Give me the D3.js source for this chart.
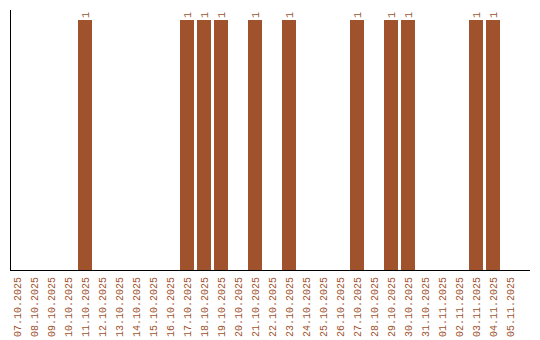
<!DOCTYPE html>
<html>
<head>
<meta charset="utf-8">
<script src="https://cdn.jsdelivr.net/npm/d3@7"></script>
<style>
  html, body { margin: 0; padding: 0; background: #ffffff; }
  svg { display: block; }
  text { font-family: "Liberation Mono", monospace; font-size: 10px; fill: #a0522d; }
</style>
</head>
<body>
<svg id="chart" width="540" height="340"></svg>
<script>
const dates = [
  "07.10.2025","08.10.2025","09.10.2025","10.10.2025","11.10.2025","12.10.2025",
  "13.10.2025","14.10.2025","15.10.2025","16.10.2025","17.10.2025","18.10.2025",
  "19.10.2025","20.10.2025","21.10.2025","22.10.2025","23.10.2025","24.10.2025",
  "25.10.2025","26.10.2025","27.10.2025","28.10.2025","29.10.2025","30.10.2025",
  "31.10.2025","01.11.2025","02.11.2025","03.11.2025","04.11.2025","05.11.2025"
];
const values = [
  0,0,0,0,1,0,
  0,0,0,0,1,1,
  1,0,1,0,1,0,
  0,0,1,0,1,1,
  0,0,0,1,1,0
];

const svg = d3.select("#chart");
const mLeft = 10, mRight = 530, mTop = 10, mBottom = 270;
const barColor = "#a0522d";

const x = d3.scaleBand()
  .domain(dates)
  .range([mLeft, 517])
  .paddingInner(3 / 17)
  .paddingOuter(0);

const y = d3.scaleLinear()
  .domain([0, d3.max(values)])
  .range([mBottom, 20]);

const data = dates.map((d, i) => ({ date: d, value: values[i] }));

// bars
svg.append("g").selectAll("rect")
  .data(data.filter(d => d.value > 0))
  .join("rect")
  .attr("x", d => x(d.date))
  .attr("y", d => y(d.value))
  .attr("width", x.bandwidth())
  .attr("height", d => y(0) - y(d.value))
  .attr("fill", barColor);

// value labels
svg.append("g").selectAll("text")
  .data(data.filter(d => d.value > 0))
  .join("text")
  .attr("transform", d => `translate(${x(d.date) + x.bandwidth() / 2},${y(d.value) - 2}) rotate(-90)`)
  .attr("dy", "0.35em")
  .attr("text-anchor", "start")
  .text(d => d.value);

// x axis labels
const xAxis = d3.axisBottom(x).tickSize(0).tickPadding(0);
const gx = svg.append("g").attr("transform", `translate(0,${mBottom})`).call(xAxis);
gx.select(".domain").remove();
gx.selectAll(".tick text")
  .attr("transform", "translate(0,7) rotate(-90)")
  .attr("x", 0)
  .attr("y", 0)
  .attr("dy", "0.35em")
  .attr("text-anchor", "end")
  .style("font-family", "Liberation Mono, monospace")
  .style("font-size", "10px")
  .attr("fill", barColor);

// axis lines
svg.append("line")
  .attr("x1", mLeft + 0.5).attr("x2", mLeft + 0.5)
  .attr("y1", mTop).attr("y2", mBottom)
  .attr("stroke", "#000").attr("stroke-width", 1);
svg.append("line")
  .attr("x1", mLeft).attr("x2", mRight)
  .attr("y1", mBottom + 0.5).attr("y2", mBottom + 0.5)
  .attr("stroke", "#000").attr("stroke-width", 1);
</script>
</body>
</html>
